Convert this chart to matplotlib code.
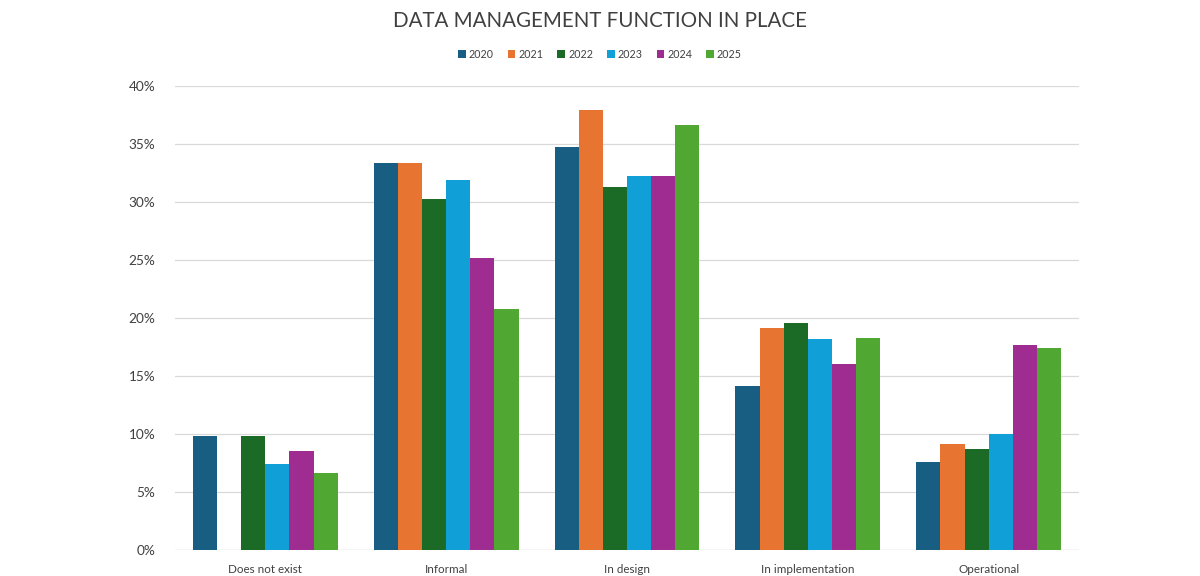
import matplotlib
matplotlib.use("Agg")
import matplotlib.pyplot as plt
import numpy as np

categories = ["Does not exist", "Informal", "In design", "In implementation", "Operational"]
years = ["2020", "2021", "2022", "2023", "2024", "2025"]
v2020 = [9.8, 33.4, 34.7, 14.1, 7.6]
v2021 = [0.0, 33.4, 37.9, 19.1, 9.1]
v2022 = [9.8, 30.3, 31.3, 19.6, 8.7]
v2023 = [7.4, 31.9, 32.2, 18.2, 10.0]
v2024 = [8.5, 25.2, 32.2, 16.0, 17.7]
v2025 = [6.6, 20.8, 36.6, 18.3, 17.4]
series = [v2020, v2021, v2022, v2023, v2024, v2025]
colors = ["#175E82", "#E87432", "#1B6B26", "#119FD8", "#9E2C91", "#50A832"]

plt.rcParams['font.family'] = ['Lato', 'DejaVu Sans']

fig = plt.figure(figsize=(12, 5.76), dpi=100)
ax = fig.add_axes([0.1458, 0.0451, 0.7534, 0.8056])

x = np.arange(len(categories))
n = len(series)
w = 0.8 / n
for i, (vals, c, y) in enumerate(zip(series, colors, years)):
    ax.bar(x - 0.4 + w * (i + 0.5), vals, width=w, color=c, label=y, zorder=3)

ax.set_xlim(-0.5, len(categories) - 0.5)
ax.set_ylim(0, 40)
ax.set_yticks(np.arange(0, 41, 5))
ax.set_yticklabels([f"{t}%" for t in range(0, 41, 5)])
ax.set_xticks(x)
ax.set_xticklabels(categories)
ax.grid(axis='y', color='#D9D9D9', linewidth=0.9, zorder=0)
for s in ax.spines.values():
    s.set_visible(False)
ax.axhline(0, color='#D9D9D9', linewidth=0.9, zorder=2)
ax.tick_params(axis='both', length=0, colors='#404040')
ax.tick_params(axis='x', pad=10, labelsize=8.4)
ax.tick_params(axis='y', pad=14, labelsize=9.8)

fig.text(0.5, 0.963, "DATA MANAGEMENT FUNCTION IN PLACE", ha='center', va='center',
         fontsize=14.8, color='#404040')
leg = fig.legend(loc='center', bbox_to_anchor=(0.5, 0.906), ncol=6, frameon=False,
                 fontsize=7.7, handlelength=0.7, handleheight=0.7, handletextpad=0.3,
                 columnspacing=1.3, labelcolor='#404040')

fig.savefig("out.png", dpi=100)
